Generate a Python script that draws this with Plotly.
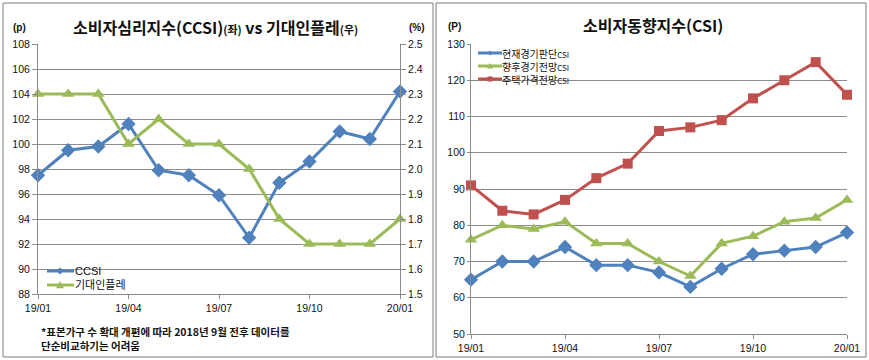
import plotly.graph_objects as go

W, H = 869, 360

months = ["19/01", "19/02", "19/03", "19/04", "19/05", "19/06", "19/07",
          "19/08", "19/09", "19/10", "19/11", "19/12", "20/01"]
tick_labels = ["19/01", "19/04", "19/07", "19/10", "20/01"]

ccsi = [97.5, 99.5, 99.8, 101.6, 97.9, 97.5, 95.9, 92.5, 96.9, 98.6, 101.0, 100.4, 104.2]
exp_infl = [2.3, 2.3, 2.3, 2.1, 2.2, 2.1, 2.1, 2.0, 1.8, 1.7, 1.7, 1.7, 1.8]

cur_csi = [65, 70, 70, 74, 69, 69, 67, 63, 68, 72, 73, 74, 78]
fut_csi = [76, 80, 79, 81, 75, 75, 70, 66, 75, 77, 81, 82, 87]
house_csi = [91, 84, 83, 87, 93, 97, 106, 107, 109, 115, 120, 125, 116]

BLUE = "#4F81BD"
GREEN = "#9BBB59"
RED = "#C0504D"
GRID = "#8c8c8c"
KR = "Noto Sans CJK KR"
NUM = "Liberation Sans"


def px(x):
    return x / W


def py(y):
    return 1 - y / H


fig = go.Figure()

fig.add_trace(go.Scatter(x=months, y=ccsi, mode="lines+markers", name="CCSI",
                         line=dict(color=BLUE, width=3),
                         marker=dict(symbol="diamond", size=11, color=BLUE),
                         xaxis="x", yaxis="y", cliponaxis=False, showlegend=False))
fig.add_trace(go.Scatter(x=months, y=exp_infl, mode="lines+markers", name="기대인플레",
                         line=dict(color=GREEN, width=3),
                         marker=dict(symbol="triangle-up", size=11, color=GREEN),
                         xaxis="x", yaxis="y2", cliponaxis=False, showlegend=False))

fig.add_trace(go.Scatter(x=months, y=house_csi, mode="lines+markers", name="주택가격전망CSI",
                         line=dict(color=RED, width=3),
                         marker=dict(symbol="square", size=10, color=RED),
                         xaxis="x2", yaxis="y3", cliponaxis=False, showlegend=False))
fig.add_trace(go.Scatter(x=months, y=fut_csi, mode="lines+markers", name="향후경기전망CSI",
                         line=dict(color=GREEN, width=3),
                         marker=dict(symbol="triangle-up", size=11, color=GREEN),
                         xaxis="x2", yaxis="y3", cliponaxis=False, showlegend=False))
fig.add_trace(go.Scatter(x=months, y=cur_csi, mode="lines+markers", name="현재경기판단CSI",
                         line=dict(color=BLUE, width=3),
                         marker=dict(symbol="diamond", size=11, color=BLUE),
                         xaxis="x2", yaxis="y3", cliponaxis=False, showlegend=False))

tickfont = dict(family=NUM, size=10.5, color="#111")

xcommon = dict(type="category", range=[0, 12], tickmode="array", tickvals=tick_labels,
               ticktext=tick_labels, showline=True, linecolor=GRID, linewidth=1,
               showgrid=False, ticks="outside", ticklen=4, tickcolor=GRID,
               tickfont=tickfont, zeroline=False, fixedrange=True, automargin=False)

fig.update_layout(
    width=W, height=H,
    margin=dict(l=0, r=0, t=0, b=0, autoexpand=False),
    paper_bgcolor="white", plot_bgcolor="rgba(0,0,0,0)",
    showlegend=False,
    xaxis=dict(domain=[px(38), px(400)], anchor="y", **xcommon),
    yaxis=dict(domain=[py(294), py(44)], range=[88, 108], dtick=2, tick0=88,
               showline=True, linecolor=GRID, showgrid=True, gridcolor=GRID, gridwidth=1,
               ticks="outside", ticklen=5, tickcolor=GRID, tickfont=tickfont,
               zeroline=False, anchor="x", automargin=False),
    yaxis2=dict(domain=[py(294), py(44)], range=[1.5, 2.5], dtick=0.1, tick0=1.5,
                tickformat=".1f", overlaying="y", side="right", anchor="x",
                showline=True, linecolor=GRID, showgrid=False,
                ticks="outside", ticklen=5, tickcolor=GRID, tickfont=tickfont,
                zeroline=False, automargin=False),
    xaxis2=dict(domain=[px(471), px(847)], anchor="y3", **xcommon),
    yaxis3=dict(domain=[py(334), py(44)], range=[50, 130], dtick=10, tick0=50,
                showline=True, linecolor=GRID, showgrid=True, gridcolor=GRID, gridwidth=1,
                ticks="outside", ticklen=3, tickcolor=GRID, tickfont=tickfont,
                zeroline=False, anchor="x2", automargin=False),
)

shapes = []
# panel borders
for x0, x1 in [(3, 433), (436, 866)]:
    shapes.append(dict(type="rect", xref="paper", yref="paper",
                       x0=px(x0), x1=px(x1), y0=py(357), y1=py(3),
                       line=dict(color="#7a7a7a", width=1), fillcolor="rgba(0,0,0,0)"))


def line_sample(x0, x1, y, color):
    shapes.append(dict(type="line", xref="paper", yref="paper",
                       x0=px(x0), x1=px(x1), y0=py(y), y1=py(y),
                       line=dict(color=color, width=3)))


def marker_path(kind, cx, cy, a, color):
    if kind == "diamond":
        pts = [(cx - a, cy), (cx, cy - a), (cx + a, cy), (cx, cy + a)]
    elif kind == "triangle":
        pts = [(cx - a, cy + a * 0.8), (cx, cy - a), (cx + a, cy + a * 0.8)]
    else:
        pts = [(cx - a, cy - a), (cx + a, cy - a), (cx + a, cy + a), (cx - a, cy + a)]
    path = "M " + " L ".join(f"{px(x):.5f},{py(y):.5f}" for x, y in pts) + " Z"
    shapes.append(dict(type="path", xref="paper", yref="paper", path=path,
                       fillcolor=color, line=dict(color=color, width=0)))


# left legend
line_sample(47, 74, 271, BLUE)
marker_path("diamond", 60, 271, 3.5, BLUE)
line_sample(47, 74, 285, GREEN)
marker_path("triangle", 60, 285, 4, GREEN)
# right legend
line_sample(478, 502, 53, BLUE)
marker_path("diamond", 490, 53, 2.5, BLUE)
line_sample(478, 502, 66, GREEN)
marker_path("triangle", 490, 66, 3, GREEN)
line_sample(478, 502, 79, RED)
marker_path("square", 490, 79, 2.5, RED)

fig.update_layout(shapes=shapes)

ann = []


def text(x, y, s, size, anchor="left", bold=False, family=KR, color="#111", pad=1, align="left"):
    ann.append(dict(x=px(x), y=py(y), xref="paper", yref="paper", text=(f"<b>{s}</b>" if bold else s),
                    showarrow=False, xanchor=anchor, yanchor="middle", borderpad=pad, align=align,
                    font=dict(family=family, size=size, color=color)))


text(215, 27, "소비자심리지수(CCSI)<span style='font-size:11px'>(좌)</span> vs 기대인플레<span style='font-size:11px'>(우)</span>",
     16, anchor="center", bold=True)
text(653, 25, "소비자동향지수(CSI)", 16, anchor="center", bold=True)
text(19, 28, "(p)", 10, anchor="center", bold=True, family=NUM)
text(417, 28, "(%)", 10, anchor="center", bold=True, family=NUM)
text(454, 27, "(P)", 10, anchor="center", bold=True, family=NUM)

text(74, 278, "CCSI<br><span style='font-family:Noto Sans CJK KR'>기대인플레</span>", 11, family=NUM, pad=0)
csi_legend = ["현재경기판단", "향후경기전망", "주택가격전망"]
text(501, 66, "<br>".join(f"{s}<span style='font-size:8px'>CSI</span>" for s in csi_legend), 10, pad=0)

text(39, 338, "*표본가구 수 확대 개편에 따라 2018년 9월 전후 데이터를<br>단순비교하기는 어려움",
     10.5, bold=True)

fig.update_layout(annotations=ann)

fig.write_html("out.html", config={"displayModeBar": False},
               post_script="document.body.style.margin='0';")
